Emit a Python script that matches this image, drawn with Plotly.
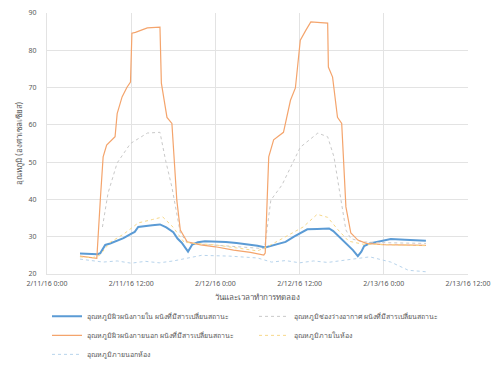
import pandas as pd
import plotly.graph_objects as go

START = pd.Timestamp("2016-02-11 00:00")

# Hours since 2/11/16 0:00 and temperatures (°C) for each measured point
inner_hours = [4.7, 5.5, 6.5, 7.2, 7.6, 8.3, 9.0, 10.0, 10.9, 11.9, 12.5, 13.0, 14.0, 15.0, 16.1,
               17.0, 18.0, 18.6, 19.2, 19.6, 20.1, 20.7, 21.5, 22.5, 24.0, 25.5, 27.0, 28.5,
               30.0, 31.1, 32.5, 34.0, 35.2, 36.2, 37.1, 38.5, 40.2, 40.8, 41.9, 42.8, 43.6,
               44.3, 44.8, 45.2, 46.0, 47.0, 49.0, 51.0, 54.0]
inner_vals = [25.5, 25.5, 25.4, 25.3, 25.6, 27.8, 28.2, 28.9, 29.6, 30.7, 31.3, 32.6, 32.9, 33.1, 33.3,
              32.5, 31.2, 29.5, 28.4, 27.2, 26.0, 27.9, 28.5, 28.8, 28.8, 28.6, 28.3, 28.0,
              27.6, 27.1, 27.8, 28.6, 30.0, 31.0, 32.0, 32.1, 32.2, 31.5, 29.6, 28.0, 26.4,
              24.8, 26.0, 27.5, 28.2, 28.6, 29.4, 29.2, 28.9]

outer_hours = [4.7, 6.0, 7.1, 7.6, 8.0, 8.5, 9.7, 10.0, 10.7, 11.4, 11.9, 12.1, 12.6, 14.3, 16.1,
               16.3, 17.1, 17.8, 18.5, 19.0, 20.0, 21.9, 24.0, 26.6, 29.0, 30.9, 31.1, 31.6,
               32.3, 33.7, 34.7, 35.4, 36.1, 36.9, 37.6, 39.0, 40.0, 40.1, 40.7, 41.4, 42.0,
               42.6, 43.3, 44.3, 45.5, 48.0, 51.0, 54.0]
outer_vals = [24.8, 24.5, 24.2, 40.0, 51.4, 54.6, 56.8, 63.0, 67.5, 70.1, 71.5, 84.6, 84.8, 86.0, 86.2,
              71.2, 62.0, 60.4, 39.8, 31.8, 28.6, 27.8, 27.3, 26.4, 25.8, 25.1, 25.6, 51.4,
              56.0, 58.0, 66.6, 69.9, 82.7, 85.4, 87.6, 87.4, 87.3, 75.5, 72.8, 62.0, 60.4,
              38.0, 31.0, 29.1, 28.2, 27.9, 27.8, 27.7]

gap_hours = [7.9, 8.7, 10.0, 11.9, 14.3, 16.1, 16.9, 17.8, 19.0, 20.0, 22.0, 25.0, 28.0, 31.0,
             31.9, 33.5, 36.1, 38.6, 40.0, 40.9, 41.9, 42.6, 43.3, 45.0, 48.0, 51.0, 54.0]
gap_vals = [32.6, 41.7, 49.8, 55.0, 57.8, 58.0, 50.5, 43.3, 31.0, 28.3, 28.0, 27.6, 27.0, 26.8,
            39.8, 43.9, 54.0, 57.8, 56.8, 51.4, 39.8, 31.8, 29.5, 28.6, 28.4, 28.3, 28.2]

room_hours = [4.7, 6.5, 7.5, 9.0, 11.0, 13.0, 15.0, 16.5, 18.0, 19.5, 21.0, 24.0, 27.0, 30.0,
              31.5, 33.0, 35.0, 36.5, 38.5, 40.0, 41.5, 43.0, 45.0, 48.0, 51.0, 54.0]
room_vals = [24.6, 24.4, 25.0, 28.5, 30.8, 33.7, 34.6, 35.3, 32.5, 28.6, 28.2, 27.8, 27.0, 26.2,
             27.4, 29.0, 31.2, 32.6, 36.0, 35.2, 31.8, 28.8, 28.0, 27.9, 27.8, 27.6]

outside_hours = [4.7, 6.5, 8.0, 10.0, 12.0, 14.0, 16.0, 18.0, 20.0, 22.0, 26.0, 30.0, 32.0,
                 34.0, 36.0, 38.0, 40.0, 42.0, 44.0, 46.0, 49.0, 51.5, 54.0]
outside_vals = [24.0, 23.6, 23.2, 23.5, 22.9, 23.4, 23.0, 23.5, 24.2, 25.0, 24.8, 24.3, 23.2,
                23.6, 23.0, 23.5, 23.1, 23.6, 24.2, 24.6, 23.2, 21.0, 20.6]

series = [
    ("อุณหภูมิผิวผนังภายใน ผนังที่มีสารเปลี่ยนสถานะ", inner_hours, inner_vals,
     dict(color="#5B9BD5", width=2)),
    ("อุณหภูมิช่องว่างอากาศ ผนังที่มีสารเปลี่ยนสถานะ", gap_hours, gap_vals,
     dict(color="#C9C9C9", width=1, dash="dot")),
    ("อุณหภูมิผิวผนังภายนอก ผนังที่มีสารเปลี่ยนสถานะ", outer_hours, outer_vals,
     dict(color="#F4A46C", width=1.2)),
    ("อุณหภูมิภายในห้อง", room_hours, room_vals,
     dict(color="#F7D88A", width=1, dash="dot")),
    ("อุณหภูมิภายนอกห้อง", outside_hours, outside_vals,
     dict(color="#B8D4EC", width=1, dash="dot")),
]

fig = go.Figure()
for name, hrs, vals, line in series:
    times = [START + pd.Timedelta(hours=h) for h in hrs]
    fig.add_trace(go.Scatter(x=times, y=vals, name=name, mode="lines", line=line))

FONT = "Noto Sans, DejaVu Sans, sans-serif"

fig.update_layout(
    width=504, height=388,
    margin=dict(l=47, r=36, t=13, b=114, autoexpand=False),
    paper_bgcolor="white", plot_bgcolor="white",
    font=dict(family=FONT, size=8, color="#595959"),
    showlegend=True,
    legend=dict(orientation="h", x=0.0, xanchor="left",
                yref="container", y=0.222, yanchor="top",
                entrywidth=162, font=dict(size=7, color="#595959"),
                itemwidth=30, tracegroupgap=0, bgcolor="rgba(0,0,0,0)"),
)
fig.update_xaxes(
    range=[START, START + pd.Timedelta(hours=60)],
    dtick=12 * 3600 * 1000, tick0=START,
    tickformat="%-m/%d/%y %-H:%M",
    showgrid=True, gridcolor="#E3E3E3", gridwidth=1,
    showline=True, linecolor="#E3E3E3", zeroline=False,
    tickfont=dict(size=7), ticklabelstandoff=3,
    title=dict(text="วันและเวลาทำการทดลอง", font=dict(size=8), standoff=11),
)
fig.update_yaxes(
    range=[20, 90], dtick=10,
    showgrid=True, gridcolor="#E3E3E3", gridwidth=1,
    showline=True, linecolor="#E3E3E3", zeroline=False,
    tickfont=dict(size=7), ticklabelstandoff=8,
    title=dict(text="อุณหภูมิ (องศาเซลเซียส)", font=dict(size=8), standoff=4),
)

fig.write_html("out.html")
